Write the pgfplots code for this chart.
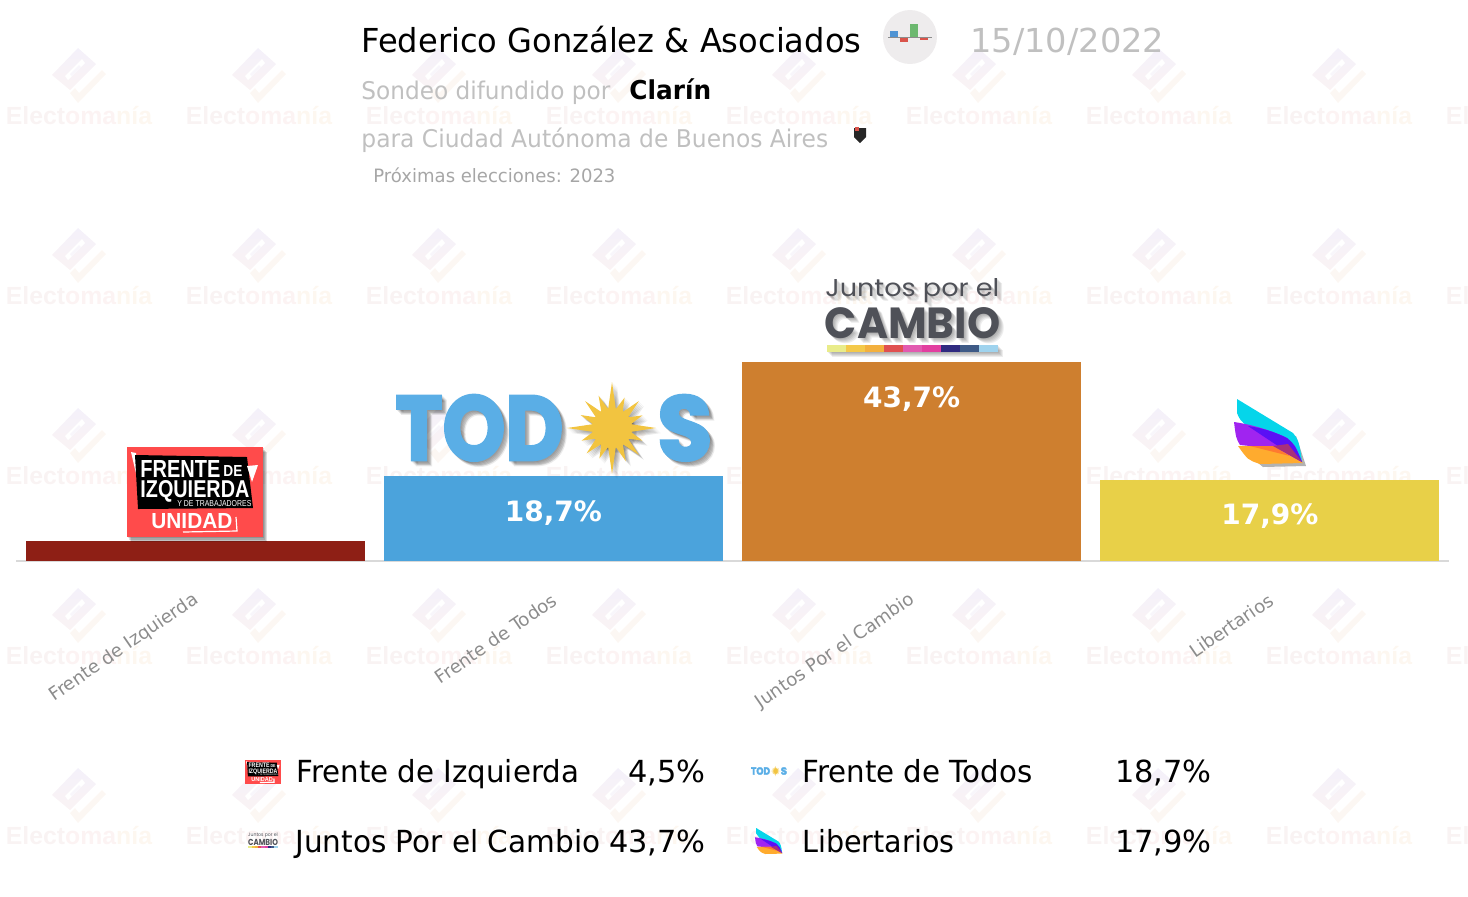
\documentclass[border=0pt]{standalone}
\usepackage{fontspec}
\usepackage{graphicx}
\usepackage{pgfplots}
\pgfplotsset{compat=1.18}
\setmainfont{DejaVu Sans}
\newfontfamily\lib{Liberation Sans}
\newfontfamily\pop{Poppins}
\newfontfamily\popx{Poppins}[BoldFeatures={FakeBold=3}]
\newdimen\pxu \pxu=0.5pt
\newcommand\fs[1]{\fontsize{#1}{#1}\selectfont}
\newcommand\sq[2]{\scalebox{#1}[1]{#2}}
\definecolor{cFIT}{HTML}{8E1F15}
\definecolor{cFDT}{HTML}{4BA3DC}
\definecolor{cJXC}{HTML}{CE7F2F}
\definecolor{cLIB}{HTML}{E8D048}
\definecolor{tgrey}{HTML}{C0C0C0}
\definecolor{EEECED}{HTML}{EEECED}
\definecolor{4F94D4}{HTML}{4F94D4}
\definecolor{D9534A}{HTML}{D9534A}
\definecolor{6CB86F}{HTML}{6CB86F}
% sized text: x, baseline y, width, height, colour, font, text
\newcommand\ft[7]{\node[anchor=base west,inner sep=0pt,text=#5,transform shape] at (#1,#2) {\resizebox{#3\pxu}{#4\pxu}{#6{}#7}};}
\newcommand\wm[2]{%
\begin{scope}[shift={(#1,#2)}]
\shade[top color=wA,bottom color=wB] (-1,-28)--(17,-12)--(-9,14)--(-27,-1)--cycle;
\fill[white] (3,-17)--(6,-13)--(-11,4)--(-14,0)--cycle;
\fill[wC] (0,-11)--(2,-9)--(-7,0)--(-9,-2)--cycle;
\fill[wD] (23,-6)--(27,-2)--(-1,27)--(-9,17)--(-4,12)--(0,17)--cycle;
\node[inner sep=0pt,anchor=center] at (0,40) {\lib\bfseries\fs{12.4pt}\textcolor{wE}{Elect}\textcolor{wF}{oma}\textcolor{wG}{nía}};
\end{scope}}
\definecolor{wA}{HTML}{F4F1FA}
\definecolor{wB}{HTML}{FAF3F4}
\definecolor{wC}{HTML}{F8F6FB}
\definecolor{wD}{HTML}{FCF7F3}
\definecolor{wE}{HTML}{F9F3F3}
\definecolor{wF}{HTML}{FCF3F3}
\definecolor{wG}{HTML}{FDF7F0}
\definecolor{lred}{HTML}{FF4B4B}
\definecolor{lblue}{HTML}{5AAEE6}
\definecolor{lsun}{HTML}{F2C440}
\definecolor{ldark}{HTML}{4F5158}
% logos, in picture pixels
\newcommand\fitlogo{%
\fill[lred] (127,447) rectangle (263,537);
\fill[white] (131,452)--(136,453)--(138,482)--cycle;
\fill[black] (135,455)--(247,457)--(253,508)--(138,509)--cycle;
\fill[white] (247,466)--(258,465)--(252,482)--cycle;
\ft{140}{477}{80}{17}{white}{\lib\bfseries}{FRENTE}
\ft{223}{476}{19}{11}{white}{\lib\bfseries}{DE}
\ft{140}{497}{109}{17}{white}{\lib\bfseries}{IZQUIERDA}
\ft{177}{506}{74}{6}{white}{\lib}{Y DE TRABAJADORES}
\ft{151}{528}{81}{15}{white}{\lib\bfseries}{UNIDAD}
\draw[white,line width=.6pt] (183,532)--(237,531)--(236,517);
}
\newcommand\todoslogo[2]{%
\ft{395}{460}{168}{65}{#1}{\popx\bfseries}{TOD}
\ft{657}{460}{55}{65}{#1}{\popx\bfseries}{S}
\begin{scope}[shift={(612,428)}]
\fill[#2] (0,0) circle (20);
\foreach \a/\r in {0/44,22.5/33,45/38,67.5/36,90/46,112.5/33,135/36,157.5/33,180/45,202.5/34,225/38,247.5/35,270/46,292.5/33,315/38,337.5/33}{
\fill[#2] (\a-13:18)--(\a:\r)--(\a+13:18)--cycle;}
\end{scope}}
\newcommand\jxclogo[1]{%
\ft{825}{296}{174}{18}{#1}{\pop}{Juntos por el}
\ft{824.5}{338}{175.5}{31}{#1}{\pop\bfseries}{CAMBIO}
}
\newcommand\jxcstrip{%
\foreach \i/\c in {0/E9EC8A,1/F4C94A,2/F3B03E,3/E05050,4/E25AB0,5/E23FA0,6/2F2A80,7/3E5A86,8/9FD3EE}{
\definecolor{tmpc}{HTML}{\c}
\fill[tmpc] ({827+19*\i},345) rectangle ({827+19*(\i+1)},352);}
}
\newcommand\winglogo{%
\definecolor{wc}{HTML}{05D5EA}\definecolor{wp}{HTML}{A024F0}\definecolor{wb}{HTML}{5A10F5}
\definecolor{wo}{HTML}{FFAB2E}\definecolor{wr}{HTML}{FF7A30}\definecolor{wmm}{HTML}{A8307A}
\fill[wc] (1237,399)--(1237,413) .. controls (1240,420) .. (1248,427) -- (1302,462) .. controls (1300,445) and (1298,438) .. (1293,433) -- cycle;
\fill[wp] (1234,422) .. controls (1255,425) and (1275,432) .. (1287,438) .. controls (1295,445) .. (1302,462) -- (1250,446) -- (1240,445) .. controls (1236,438) .. (1234,422) -- cycle;
\fill[wb] (1248,426) .. controls (1262,428) and (1275,432) .. (1287,438) .. controls (1295,445) .. (1302,462) -- cycle;
\fill[wo] (1238,446) -- (1273,446) -- (1303,463) -- (1260,464) .. controls (1248,460) .. (1238,446) -- cycle;
\fill[wr] (1250,446)--(1273,446)--(1290,456)--cycle;
\fill[wmm] (1273,446)--(1288,444)--(1302,462)--cycle;
}
\begin{document}
\begin{tikzpicture}[x=0.5pt,y=-0.5pt]
\path[use as bounding box] (0,0) rectangle (1468,896);
\begin{scope}
\clip (0,0) rectangle (1468,896);
\foreach \y in {76,256,436,616,796}{
  \foreach \x in {79,259,439,619,799,979,1159,1339,1519}{\wm{\x}{\y}}}
\end{scope}
\begin{axis}[
  at={(8pt,-280.5pt)},anchor=south west,scale only axis,
  width=716.5pt,height=100.5pt,
  xmin=-0.5,xmax=3.5,ymin=0,ymax=44.14,
  axis y line=none,axis x line=bottom,
  axis line style={-,draw=black!15,line width=0.75pt},
  xtick={0,1,2,3},xticklabels={Frente de Izquierda,Frente de Todos,Juntos Por el Cambio,Libertarios},
  major tick length=0pt,
  xticklabel style={rotate=34.5,anchor=east,font=\fs{9.1pt},text=black!45,inner sep=0pt,xshift=-9.75pt,yshift=-15.65pt},
  clip=false,
  bar width=0.946,
  every axis plot/.append style={ybar,bar shift=0pt,draw=none},
  nodes near coords style={anchor=center,yshift=-18.5pt,font=\bfseries\fs{14pt},text=white},
]
\addplot[fill=cFIT] coordinates {(0,4.5)};
\addplot[fill=cFDT,nodes near coords,point meta=explicit symbolic] coordinates {(1,18.7) [18,7\%]};
\addplot[fill=cJXC,nodes near coords,point meta=explicit symbolic] coordinates {(2,43.7) [43,7\%]};
\addplot[fill=cLIB,nodes near coords,point meta=explicit symbolic] coordinates {(3,17.9) [17,9\%]};
\end{axis}
% header
\node[anchor=base west,inner sep=0pt] at (361,52) {\fs{16.5pt}\sq{.973}{Federico González \& Asociados}};
\node[anchor=base west,inner sep=0pt,text=tgrey] at (970,52) {\fs{16.5pt}\sq{1.02}{15/10/2022}};
\node[anchor=base west,inner sep=0pt,text=tgrey] at (361,99) {\fs{12.2pt}\sq{.951}{Sondeo difundido por}};
\node[anchor=base west,inner sep=0pt] at (629,99) {\fs{13pt}\bfseries\sq{.953}{Clarín}};
\node[anchor=base west,inner sep=0pt,text=tgrey] at (361,147) {\fs{12.2pt}\sq{.959}{para Ciudad Autónoma de Buenos Aires}};
\node[anchor=base west,inner sep=0pt,text=black!35] at (373,182) {\fs{9.2pt}\sq{.98}{Próximas elecciones: 2023}};
\fill[EEECED] (910,37) circle (27);
\fill[4F94D4] (890,31) rectangle (898,37);
\fill[D9534A] (900,37) rectangle (908,42);
\fill[6CB86F] (910,24) rectangle (918,37);
\fill[D9534A] (920,37) rectangle (928,40);
\draw[black!45,line width=.4pt] (888,37)--(932,37);
\fill[black!85] (854,128)--(866,128)--(866,137)--(860,143)--(854,137)--cycle;
\fill[D9534A] (855,127) rectangle (859,131);
% logos
\foreach \d in {1,2,3,4}{\begin{scope}[shift={(\d,1.3*\d)},opacity=.13]\fill[black] (127,447) rectangle (263,537);\end{scope}}
\fitlogo
\foreach \d in {1,2,3,4,5}{\begin{scope}[shift={(\d,\d)},opacity=.08]\todoslogo{black}{black}\end{scope}}
\todoslogo{lblue}{lsun}
\foreach \d in {1,2,3,4,5}{\begin{scope}[shift={(\d,\d)},opacity=.07]\jxclogo{black}\fill[black] (827,345) rectangle (998,352);\end{scope}}
\jxclogo{ldark}
\jxcstrip
\begin{scope}[shift={(3,3)},opacity=.3]\fill[black] (1238,446)--(1260,464)--(1303,463)--(1293,433)--cycle;\end{scope}
\winglogo
% legend
\node[anchor=base west,inner sep=0pt] at (296,782) {\fs{15.2pt}\sq{.963}{Frente de Izquierda}};
\node[anchor=base east,inner sep=0pt] at (706,782) {\fs{15.2pt}4,5\%};
\node[anchor=base west,inner sep=0pt] at (802,782) {\fs{15.2pt}\sq{.963}{Frente de Todos}};
\node[anchor=base east,inner sep=0pt] at (1212,782) {\fs{15.2pt}18,7\%};
\node[anchor=base west,inner sep=0pt] at (295,852) {\fs{15.2pt}\sq{.971}{Juntos Por el Cambio}};
\node[anchor=base east,inner sep=0pt] at (706,852) {\fs{15.2pt}43,7\%};
\node[anchor=base west,inner sep=0pt] at (802,852) {\fs{15.2pt}\sq{.94}{Libertarios}};
\node[anchor=base east,inner sep=0pt] at (1212,852) {\fs{15.2pt}17,9\%};
\begin{scope}[shift={(211.3,641.5)},scale=.265]\fitlogo\end{scope}
\begin{scope}[shift={(706.1,722.4)},scale=.1136]\todoslogo{lblue}{lsun}\end{scope}
\begin{scope}[shift={(107.9,777.4)},xscale=.17,yscale=.2]\jxclogo{ldark}\jxcstrip\end{scope}
\begin{scope}[shift={(261.4,668.4)},scale=.4]\winglogo\end{scope}
\end{tikzpicture}
\end{document}
